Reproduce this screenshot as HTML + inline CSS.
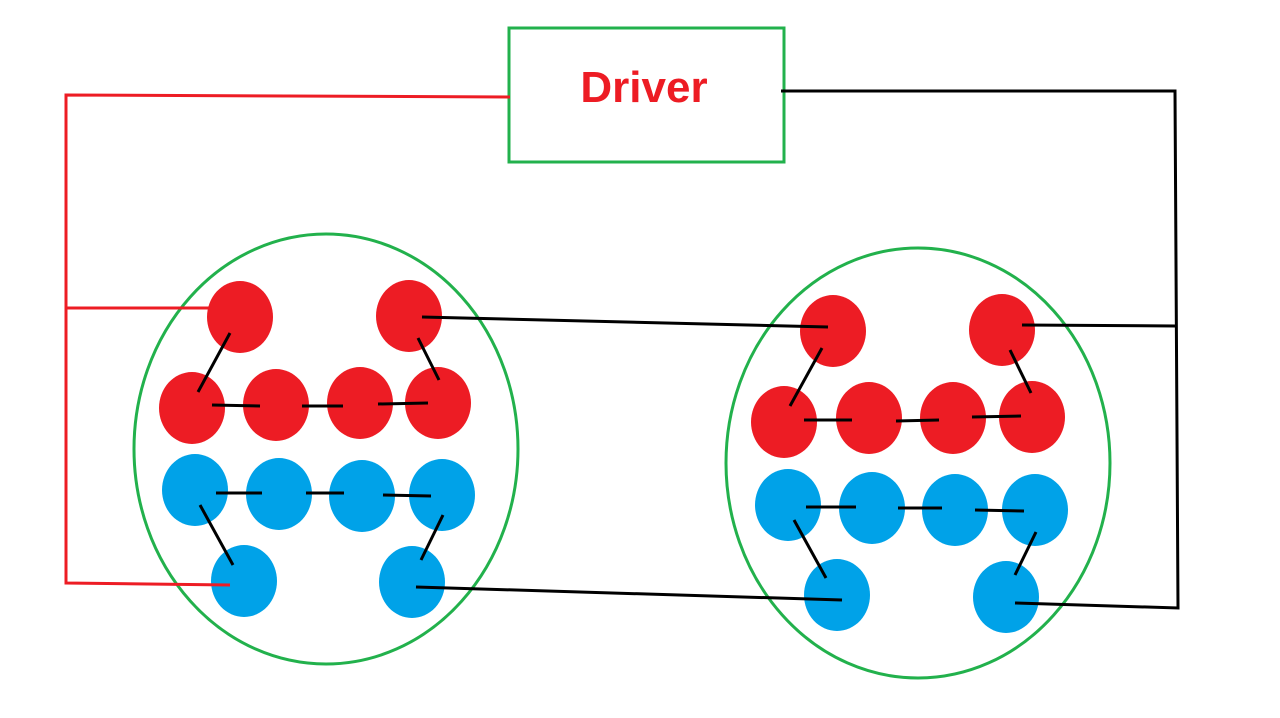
<!DOCTYPE html>
<html><head><meta charset="utf-8"><style>html,body{margin:0;padding:0;background:#fff}svg{display:block}</style></head>
<body>
<svg width="1280" height="718" viewBox="0 0 1280 718" xmlns="http://www.w3.org/2000/svg">
<rect width="1280" height="718" fill="#fff"/>
<rect x="509" y="28" width="275" height="134" fill="none" stroke="#22b14c" stroke-width="3"/>
<text x="644" y="102" text-anchor="middle" font-family="Liberation Sans, sans-serif" font-weight="bold" font-size="44" fill="#ed1c24">Driver</text>
<ellipse cx="326" cy="449" rx="192" ry="215" fill="none" stroke="#22b14c" stroke-width="3"/>
<ellipse cx="918" cy="463" rx="192" ry="215" fill="none" stroke="#22b14c" stroke-width="3"/>
<g fill="#ed1c24">
<ellipse cx="240" cy="317" rx="33" ry="36"/><ellipse cx="409" cy="316" rx="33" ry="36"/>
<ellipse cx="192" cy="408" rx="33" ry="36"/><ellipse cx="276" cy="405" rx="33" ry="36"/>
<ellipse cx="360" cy="403" rx="33" ry="36"/><ellipse cx="438" cy="403" rx="33" ry="36"/>
<ellipse cx="833" cy="331" rx="33" ry="36"/><ellipse cx="1002" cy="330" rx="33" ry="36"/>
<ellipse cx="784" cy="422" rx="33" ry="36"/><ellipse cx="869" cy="418" rx="33" ry="36"/>
<ellipse cx="953" cy="418" rx="33" ry="36"/><ellipse cx="1032" cy="417" rx="33" ry="36"/>
</g>
<g fill="#00a2e8">
<ellipse cx="195" cy="490" rx="33" ry="36"/><ellipse cx="279" cy="494" rx="33" ry="36"/>
<ellipse cx="362" cy="496" rx="33" ry="36"/><ellipse cx="442" cy="495" rx="33" ry="36"/>
<ellipse cx="244" cy="581" rx="33" ry="36"/><ellipse cx="412" cy="582" rx="33" ry="36"/>
<ellipse cx="788" cy="505" rx="33" ry="36"/><ellipse cx="872" cy="508" rx="33" ry="36"/>
<ellipse cx="955" cy="510" rx="33" ry="36"/><ellipse cx="1035" cy="510" rx="33" ry="36"/>
<ellipse cx="837" cy="595" rx="33" ry="36"/><ellipse cx="1006" cy="597" rx="33" ry="36"/>
</g>
<g stroke="#ed1c24" stroke-width="3" fill="none">
<polyline points="510,97 66,95 66,583 230,585"/>
<line x1="66" y1="308" x2="210" y2="308"/>
</g>
<g stroke="#000" stroke-width="3" fill="none">
<polyline points="781,91 1175,91 1178,608 1015,603"/>
<line x1="1022" y1="325" x2="1176" y2="326"/>
<line x1="422" y1="317" x2="828" y2="327"/>
<line x1="416" y1="587" x2="842" y2="600"/>
</g>
<g stroke="#000" stroke-width="3">
<line x1="230" y1="333" x2="198" y2="392"/><line x1="418" y1="338" x2="439" y2="380"/>
<line x1="212" y1="405" x2="260" y2="406"/><line x1="302" y1="406" x2="343" y2="406"/>
<line x1="378" y1="404" x2="428" y2="403"/><line x1="216" y1="493" x2="262" y2="493"/>
<line x1="306" y1="493" x2="344" y2="493"/><line x1="383" y1="495" x2="431" y2="496"/>
<line x1="200" y1="505" x2="233" y2="565"/><line x1="443" y1="515" x2="421" y2="560"/>
<line x1="822" y1="348" x2="790" y2="406"/><line x1="1010" y1="350" x2="1031" y2="393"/>
<line x1="804" y1="420" x2="852" y2="420"/><line x1="896" y1="421" x2="939" y2="420"/>
<line x1="972" y1="417" x2="1021" y2="416"/><line x1="806" y1="507" x2="856" y2="507"/>
<line x1="898" y1="508" x2="942" y2="508"/><line x1="975" y1="510" x2="1024" y2="511"/>
<line x1="794" y1="520" x2="826" y2="578"/><line x1="1036" y1="532" x2="1015" y2="575"/>
</g>
</svg>
</body></html>
